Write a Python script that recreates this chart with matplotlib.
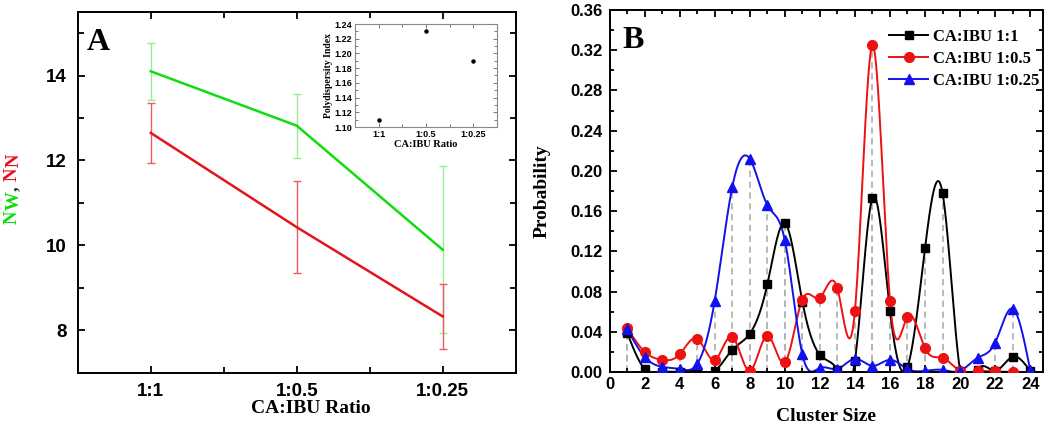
import numpy as np
import matplotlib
matplotlib.use("Agg")
import matplotlib.pyplot as plt
from matplotlib.ticker import MultipleLocator, FixedLocator

# ---------------- data ----------------
ratios = ["1:1", "1:0.5", "1:0.25"]
nw_values = [14.10, 12.82, 9.90]
nw_errors = [0.67, 0.75, 1.97]
nn_values = [12.65, 10.43, 8.33]
nn_errors = [0.70, 1.09, 0.77]
pdi_values = [1.11, 1.23, 1.19]

sizes_black = list(range(1, 25))
prob_black = [0.039, 0.003, 0.0, 0.0, 0.001, 0.001, 0.022, 0.038, 0.087, 0.148,
              0.070, 0.017, 0.002, 0.011, 0.173, 0.061, 0.005, 0.123, 0.178, 0.001,
              0.002, 0.001, 0.015, 0.001]
sizes_red = list(range(1, 24))
prob_red = [0.044, 0.020, 0.012, 0.0175, 0.033, 0.012, 0.035, 0.001, 0.036, 0.0094,
            0.072, 0.074, 0.083, 0.061, 0.325, 0.071, 0.055, 0.0235, 0.014, 0.001,
            0.0005, 0.0005, 0.0]
sizes_blue = list(range(1, 25))
prob_blue = [0.043, 0.015, 0.005, 0.003, 0.008, 0.071, 0.184, 0.212, 0.166, 0.131,
             0.0175, 0.004, 0.003, 0.013, 0.006, 0.012, 0.003, 0.001, 0.002, 0.001,
             0.014, 0.029, 0.063, 0.002]
series_labels = ["CA:IBU 1:1", "CA:IBU 1:0.5", "CA:IBU 1:0.25"]


def natural_spline(x, y, num=40):
    """Smooth connecting curve through the data points (natural cubic spline)."""
    x = np.asarray(x, float)
    y = np.asarray(y, float)
    n = len(x)
    h = np.diff(x)
    A = np.zeros((n, n))
    r = np.zeros(n)
    A[0, 0] = 1.0
    A[-1, -1] = 1.0
    for i in range(1, n - 1):
        A[i, i - 1] = h[i - 1]
        A[i, i] = 2 * (h[i - 1] + h[i])
        A[i, i + 1] = h[i]
        r[i] = 6 * ((y[i + 1] - y[i]) / h[i] - (y[i] - y[i - 1]) / h[i - 1])
    M = np.linalg.solve(A, r)
    xs_all, ys_all = [], []
    for i in range(n - 1):
        t = np.linspace(x[i], x[i + 1], num, endpoint=(i == n - 2))
        a = x[i + 1] - t
        b = t - x[i]
        s = (M[i] * a ** 3 / (6 * h[i]) + M[i + 1] * b ** 3 / (6 * h[i])
             + (y[i] / h[i] - M[i] * h[i] / 6) * a
             + (y[i + 1] / h[i] - M[i + 1] * h[i] / 6) * b)
        xs_all.append(t)
        ys_all.append(s)
    return np.concatenate(xs_all), np.concatenate(ys_all)


SERIF = "Liberation Serif"
SANS = "Liberation Sans"
W, H = 1050, 423

fig = plt.figure(figsize=(10.5, 4.23), dpi=100)

# ---------------- Panel A ----------------
axA = fig.add_axes([77.8 / W, (H - 372.9) / H, (515.6 - 77.8) / W, (372.9 - 11.8) / H])
xpos = np.arange(len(ratios))
green = "#10dd10"
red = "#e5141c"
axA.errorbar(xpos, nw_values, yerr=nw_errors, color=green, lw=1.8, ecolor="#95ee95",
             elinewidth=1.0, capsize=3, capthick=1.0, zorder=3)
axA.errorbar(xpos, nn_values, yerr=nn_errors, color=red, lw=1.8, ecolor="#ee5a60",
             elinewidth=1.0, capsize=3, capthick=1.0, zorder=3)
axA.set_xlim(-0.5, 2.5)
axA.set_ylim(7, 15.5)
axA.xaxis.set_major_locator(FixedLocator(xpos))
axA.set_xticklabels(ratios)
axA.xaxis.set_minor_locator(MultipleLocator(0.5))
axA.yaxis.set_major_locator(MultipleLocator(2))
axA.yaxis.set_minor_locator(MultipleLocator(1))
axA.tick_params(which="both", direction="in", top=True, right=True, width=1.3)
axA.tick_params(which="major", length=5)
axA.tick_params(which="minor", length=4)
axA.tick_params(axis="x", which="major", pad=7)
axA.tick_params(axis="y", which="major", pad=8)
for lab in axA.get_xticklabels() + axA.get_yticklabels():
    lab.set_fontfamily(SANS)
    lab.set_fontweight("bold")
    lab.set_fontsize(13.5)
for sp in axA.spines.values():
    sp.set_linewidth(1.4)
axA.set_xlabel("CA:IBU Ratio", fontfamily=SERIF, fontweight="bold", fontsize=14)
axA.xaxis.set_label_coords((311 - 77.8) / 437.8, -0.075)
axA.text(0.02, 0.955, "A", transform=axA.transAxes, fontfamily=SERIF,
         fontweight="bold", fontsize=23, va="top", ha="left")

# coloured y label of panel A: N_W, N_N  (pieces stacked bottom to top)
renderer = fig.canvas.get_renderer()
pieces = [("N", green, 0, 0.5), ("W", green, 2, 0.5), (",", "#333333", 0, 4.5),
          ("N", red, 0, 0.5), ("N", red, 2, 0.5)]
y_cur = H - 224.0
for txt, col, dx, gap in pieces:
    t = fig.text((12 + dx) / W, y_cur / H, txt, rotation=90, color=col,
                 fontfamily=SERIF, fontweight="bold", fontsize=13.5,
                 ha="center", va="bottom")
    bb = t.get_window_extent(renderer=renderer)
    y_cur = bb.y1 + gap

# inset
axI = fig.add_axes([355 / W, (H - 127) / H, 142 / W, 103 / H])
axI.plot(xpos, pdi_values, "o", color="black", ms=2.2, zorder=3)
axI.set_xlim(-0.5, 2.5)
axI.set_ylim(1.10, 1.24)
axI.xaxis.set_major_locator(FixedLocator(xpos))
axI.set_xticklabels(ratios)
axI.xaxis.set_minor_locator(MultipleLocator(0.5))
axI.yaxis.set_major_locator(MultipleLocator(0.02))
axI.yaxis.set_minor_locator(MultipleLocator(0.01))
axI.tick_params(which="both", direction="in", top=True, right=True, width=0.7,
                color="#777777", labelsize=6.5, pad=2)
axI.tick_params(which="major", length=3)
axI.tick_params(which="minor", length=2)
for lab in axI.get_xticklabels() + axI.get_yticklabels():
    lab.set_fontfamily(SANS)
    lab.set_fontweight("bold")
for sp in axI.spines.values():
    sp.set_linewidth(0.8)
    sp.set_color("#888888")
axI.set_xlabel("CA:IBU Ratio", fontfamily=SERIF, fontweight="bold", fontsize=7.5, labelpad=1)
axI.set_ylabel("Polydispersity Index", fontfamily=SERIF, fontweight="bold", fontsize=7, labelpad=1)

# ---------------- Panel B ----------------
axB = fig.add_axes([609.6 / W, (H - 371.9) / H, (1043.3 - 609.6) / W, (371.9 - 10.1) / H])
series = [
    (sizes_black, prob_black, "black", "s", 6, series_labels[0]),
    (sizes_red, prob_red, "#ee1111", "o", 7, series_labels[1]),
    (sizes_blue, prob_blue, "#1111ee", "^", 7, series_labels[2]),
]
# drop lines
for xs, ys, col, mk, ms, lab in series:
    axB.vlines(xs, 0, ys, colors="#b4b4b4", linestyles=(0, (3.5, 2.5)), lw=1.3, zorder=1)
for xs, ys, col, mk, ms, lab in series:
    sx, sy = natural_spline(xs, ys)
    axB.plot(sx, sy, color=col, lw=1.4, zorder=2)
    axB.plot(xs, ys, linestyle="none", marker=mk, color=col, ms=ms, zorder=3)
    axB.plot([], [], color=col, lw=1.4, marker=mk, ms=ms, label=lab)
axB.set_xlim(0, 24.75)
axB.set_ylim(0, 0.36)
axB.xaxis.set_major_locator(MultipleLocator(2))
axB.xaxis.set_minor_locator(MultipleLocator(1))
axB.yaxis.set_major_locator(MultipleLocator(0.04))
axB.yaxis.set_minor_locator(MultipleLocator(0.02))
axB.yaxis.set_major_formatter(matplotlib.ticker.FormatStrFormatter("%.2f"))
axB.tick_params(which="both", direction="in", top=True, right=True, width=1.3)
axB.tick_params(which="major", length=5)
axB.tick_params(which="minor", length=3)
axB.tick_params(axis="x", which="major", pad=4)
axB.tick_params(axis="y", which="major", pad=5)
for lab in axB.get_xticklabels() + axB.get_yticklabels():
    lab.set_fontfamily(SANS)
    lab.set_fontweight("bold")
    lab.set_fontsize(12)
for sp in axB.spines.values():
    sp.set_linewidth(1.4)
axB.set_xlabel("Cluster Size", fontfamily=SERIF, fontweight="bold", fontsize=14)
axB.xaxis.set_label_coords(0.5, -0.10)
axB.set_ylabel("Probability", fontfamily=SERIF, fontweight="bold", fontsize=14)
axB.yaxis.set_label_coords(-0.135, 0.5)
axB.text(0.03, 0.955, "B", transform=axB.transAxes, fontfamily=SERIF,
         fontweight="bold", fontsize=23, va="top", ha="left")
leg = axB.legend(loc="upper left", bbox_to_anchor=(0.645, 0.948), frameon=False,
                 prop={"family": SERIF, "weight": "bold", "size": 12},
                 handlelength=2.3, handletextpad=0.3, labelspacing=0.35,
                 borderpad=0, borderaxespad=0)

fig.savefig("out.png", dpi=100)
